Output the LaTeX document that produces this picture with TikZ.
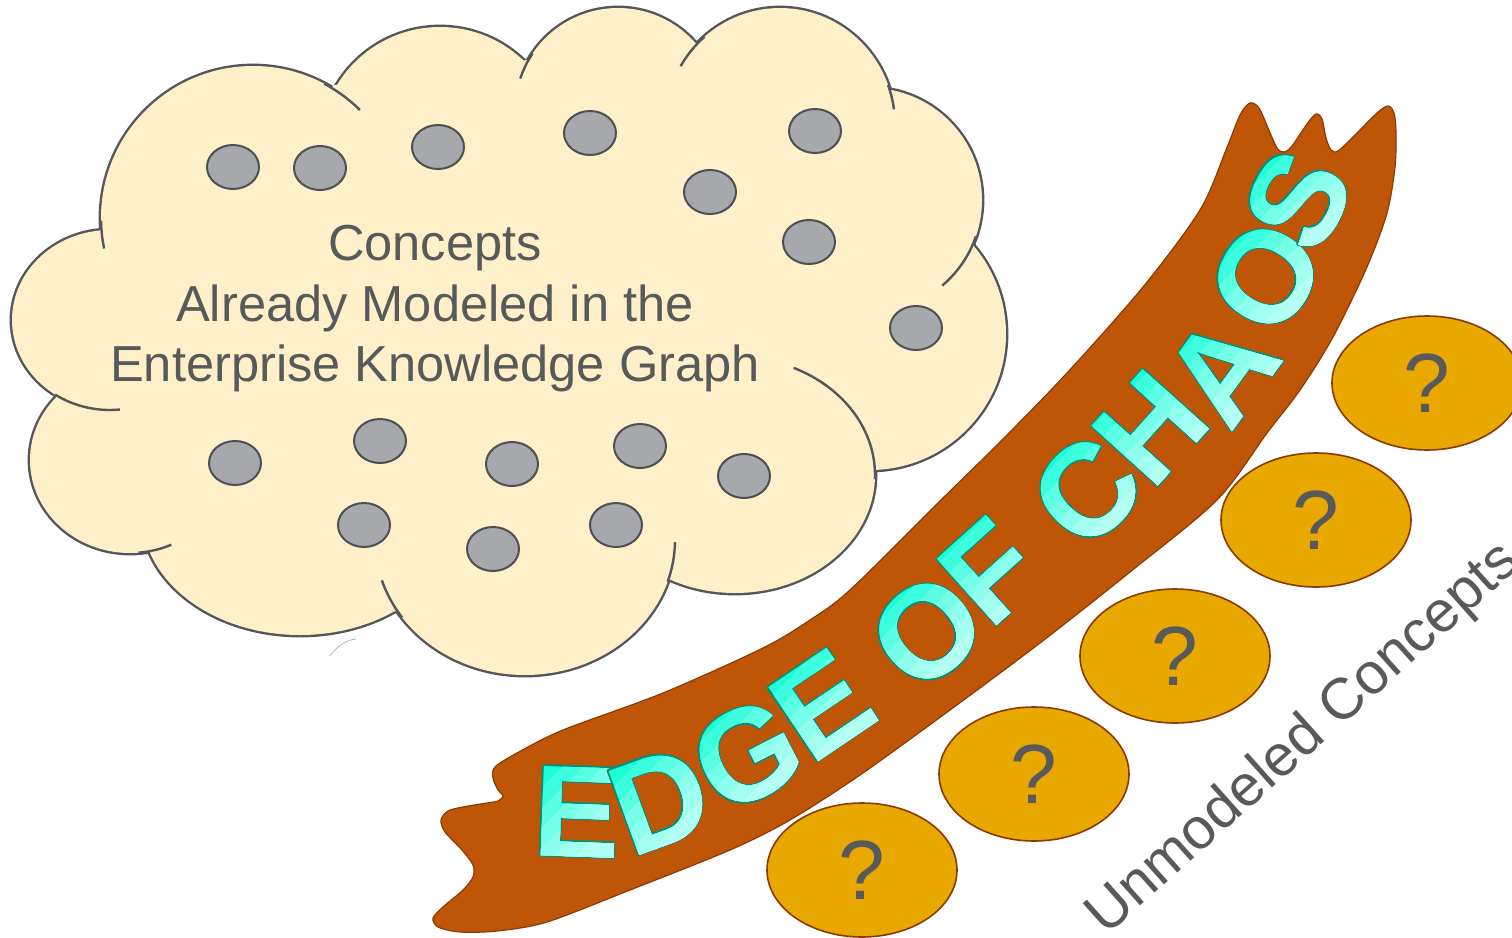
\documentclass[tikz,border=0pt]{standalone}
\usepackage{fontspec}
\setmainfont{Liberation Sans}
\usetikzlibrary{calc,shapes.geometric}

\definecolor{cloudfill}{HTML}{FFF0C9}
\definecolor{cloudline}{HTML}{55565A}
\definecolor{dotfill}{HTML}{A7A8AC}
\definecolor{dotline}{HTML}{4E4F53}
\definecolor{textgray}{HTML}{58595B}
\definecolor{bannerfill}{HTML}{BF5607}
\definecolor{bannerline}{HTML}{8A3A02}
\definecolor{qfill}{HTML}{E8A800}
\definecolor{qline}{HTML}{8A3A02}
\definecolor{waline}{HTML}{0B8C76}
\definecolor{wa1}{RGB}{30,252,216}
\definecolor{wa2}{RGB}{60,253,222}
\definecolor{wa3}{RGB}{90,254,227}
\definecolor{wa4}{RGB}{118,255,232}
\definecolor{wa5}{RGB}{142,255,236}
\definecolor{wa6}{RGB}{162,255,239}
\definecolor{wa7}{RGB}{180,255,243}

% one teal copy of a glyph, shifted, taking no room
\newcommand\olcopy[3]{\rlap{\smash{\raisebox{#2}{\kern#1\textcolor{waline}{#3}}}}}
% glyph with a teal rim and a bright fill
\newcommand\olet[1]{%
  \olcopy{.7pt}{0pt}{#1}\olcopy{-.7pt}{0pt}{#1}\olcopy{0pt}{.7pt}{#1}\olcopy{0pt}{-.7pt}{#1}%
  \olcopy{.5pt}{.5pt}{#1}\olcopy{-.5pt}{.5pt}{#1}\olcopy{.5pt}{-.5pt}{#1}\olcopy{-.5pt}{-.5pt}{#1}%
  \textcolor{wa1}{#1}}

\tikzset{
  cloudedge/.style={draw=cloudline, line width=2.4pt},
  cloudbody/.style={fill=cloudfill},
  crease/.style={draw=cloudline, line width=1.2pt},
  dot/.style={ellipse, draw=dotline, line width=1pt, fill=dotfill,
    minimum width=26pt, minimum height=22pt, inner sep=0},
  cloudtext/.style={align=center, text=textgray, inner sep=0,
    font=\fontsize{25.3}{30.25}\selectfont},
  banner/.style={fill=bannerfill, draw=bannerline, line width=0.6pt},
  waglyph/.style={inner sep=0, anchor=center,
    font=\fontsize{65}{65}\selectfont\bfseries},
  qnode/.style={ellipse, draw=qline, line width=0.8pt, fill=qfill,
    minimum width=95pt, minimum height=67pt, inner sep=0, text=textgray,
    font=\fontsize{42}{42}\selectfont},
  sidetext/.style={text=textgray, inner sep=0, font=\fontsize{29}{29}\selectfont}
}

% one banner letter: rimmed glyph, then lighter bands towards the lower right
\newcommand\waletter[5]{%
  \node[waglyph, rotate=#4] (#1) at (#2,#3) {\olet{#5}};
  \foreach \bnd/\bcol in {-60/wa2,-40/wa3,-20/wa4,0/wa5,20/wa6,42/wa7}{%
    \begin{scope}
      \clip ($(#2,#3)+(\bnd/2-160,\bnd/2+160)$) -- ++(320,-320) -- ++(400,400) -- ++(-320,320) -- cycle;
      \node[waglyph, rotate=#4, text=\bcol] at (#2,#3) {#5};
    \end{scope}
  }%
}

% lobes of the cloud: centre x / centre y / x radius / y radius
\def\lobelist{253/218/152/152, 440/146/120/119, 618/111/103/103, 780/125/115/117,
  870/200/112/112, 870/334/136/136, 735/475/140/118, 525/540/150/135,
  300/515/158/120, 130/460/100/93, 110/320/98/90}

\begin{document}
\begin{tikzpicture}[x=0.5pt, y=-0.5pt]
\useasboundingbox (0,0) rectangle (1512,938);
\clip (0,0) rectangle (1512,938);

% ---- cloud: doubled rim first, then the bodies cover the inner half
\foreach \cx/\cy/\rx/\ry in \lobelist
  \path[cloudedge] (\cx,\cy) ellipse[x radius=\rx, y radius=\ry];
\foreach \cx/\cy/\rx/\ry in \lobelist
  \path[cloudbody] (\cx,\cy) ellipse[x radius=\rx, y radius=\ry];
\path[cloudbody] (100,230) -- (335,85) -- (527,60) -- (697,43) -- (895,93)
  -- (973,245) -- (873,470) -- (669,573) -- (390,612) -- (146,550) -- (60,398) -- cycle;

% short inner creases where lobes overlap
\draw[crease] (253,218) ++(-62:152) arc[start angle=-62, end angle=-45.3, radius=152];
\draw[crease] (253,218) ++(179:152) arc[start angle=179, end angle=168.4, radius=152];
\draw[crease] (618,111) ++(-146:103) arc[start angle=-146, end angle=-161.6, radius=103];
\draw[crease] (780,125) ++(-131:115 and 117) arc[start angle=-131, end angle=-149.8, x radius=115, y radius=117];
\draw[crease] (780,125) ++(-20:115 and 117) arc[start angle=-20, end angle=-7.7, x radius=115, y radius=117];
\draw[crease] (870,200) ++(19:112) arc[start angle=19, end angle=49.8, radius=112];
\draw[crease] (735,475) ++(2:140 and 118) arc[start angle=2, end angle=-65.2, x radius=140, y radius=118];
\draw[crease] (525,540) ++(18:150 and 135) arc[start angle=18, end angle=0.9, x radius=150, y radius=135];
\draw[crease] (525,540) ++(145:150 and 135) arc[start angle=145, end angle=162.6, x radius=150, y radius=135];
\draw[crease] (130,460) ++(85:100 and 93) arc[start angle=85, end angle=65.6, x radius=100, y radius=93];
\draw[crease] (110,320) ++(124:98 and 90) arc[start angle=124, end angle=84.2, x radius=98, y radius=90];

% faint stroke below the cloud
\draw[cloudline!45, line width=0.4pt] (330,656) .. controls (337,646) and (346,640) .. (356,639);

% modeled concepts
\foreach \n/\x/\y in {1/233/167, 2/320/168, 3/438/147, 4/590/133, 5/815/131, 6/710/192,
  7/809/242, 8/916/328, 9/235/463, 10/380/441, 11/512/464, 12/640/446, 13/744/476,
  14/364/525, 15/493/549, 16/616/525}
  \node[dot] (d\n) at (\x,\y) {};

\node[cloudtext] (kgtext) at (435,309) {Concepts\\Already Modeled in the\\Enterprise Knowledge Graph};

% ---- ribbon
\draw[banner] plot[smooth cycle, tension=0.5] coordinates {
  (517,753) (563,730) (663,693) (763,648) (810,620) (850,590) (940,501) (1000,442)
  (1067,373) (1143,287) (1200,210) (1226,150) (1240,115) (1250,103) (1259,108)
  (1268,128) (1277,148) (1284,152) (1292,146) (1307,124) (1316,114) (1322,119)
  (1326,138) (1331,150) (1338,151) (1353,137) (1377,113) (1388,106) (1394,113)
  (1396,132) (1395,167) (1387,213) (1367,267) (1333,337) (1300,390) (1267,433)
  (1217,500) (1130,572) (1040,643) (950,710) (860,775) (790,820) (730,850)
  (630,890) (547,922) (497,931) (460,932) (438,927) (433,918) (443,907) (463,890)
  (473,877) (473,865) (462,850) (445,832) (441,820) (448,811) (463,807)
  (487,803) (498,801) (503,796) (498,790) (493,778) (495,767)};

\waletter{l1}{577}{812}{-2}{E}
\waletter{l2}{660}{800}{20}{D}
\waletter{l3}{747}{755}{27}{G}
\waletter{l4}{822}{705}{34}{E}
\waletter{l5}{927}{632}{41}{O}
\waletter{l6}{990}{572}{42}{F}
\waletter{l7}{1087}{492}{46}{C}
\waletter{l8}{1151}{428}{48}{H}
\waletter{l9}{1222}{370}{54}{A}
\waletter{l10}{1266}{277}{58}{O}
\waletter{l11}{1298}{200}{62}{S}

% ---- unmodeled concepts
\node[qnode] (q1) at (862,870) {?};
\node[qnode] (q2) at (1034,774) {?};
\node[qnode] (q3) at (1175,656) {?};
\node[qnode] (q4) at (1316,520) {?};
\node[qnode] (q5) at (1427,383) {?};

\node[sidetext, rotate=41.8, anchor=base west] (unmod) at (1106,937) {Unmodeled Concepts};
\end{tikzpicture}
\end{document}
